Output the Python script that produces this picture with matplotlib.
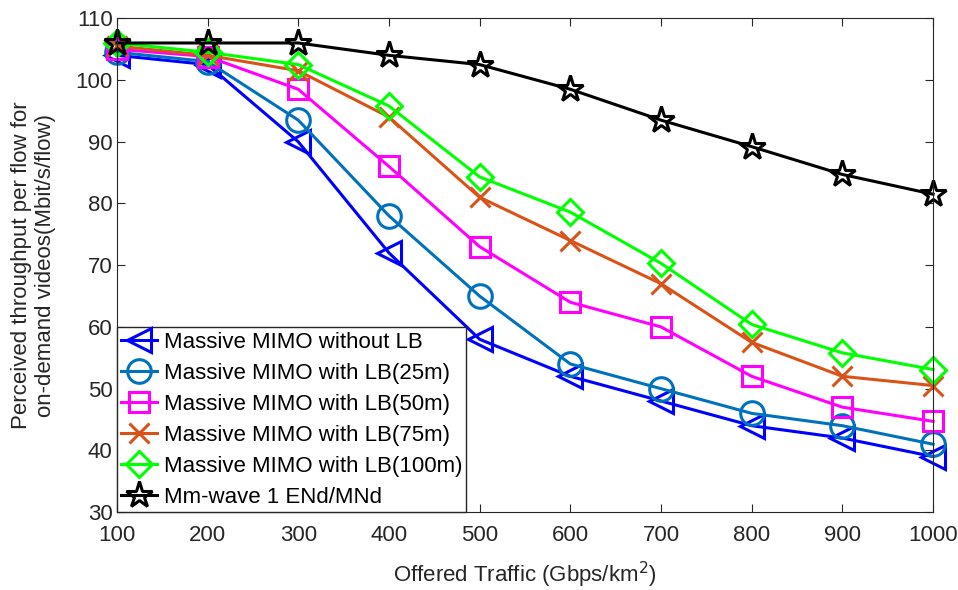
import numpy as np
import matplotlib
matplotlib.use('Agg')
import matplotlib.pyplot as plt

plt.rcParams['font.family'] = ['Liberation Sans', 'DejaVu Sans']

traffic = [100, 200, 300, 400, 500, 600, 700, 800, 900, 1000]

no_lb = [104, 102.5, 90, 72, 58, 52, 48, 44, 42, 39]
lb_25 = [104.5, 103, 93.5, 78, 65, 54, 50, 46, 44, 41]
lb_50 = [105, 103.8, 98.5, 86, 73, 64, 60, 52, 47, 44.7]
lb_75 = [105.5, 104, 101.5, 94, 81, 74, 67, 57.5, 52, 50.5]
lb_100 = [106, 104.5, 102.5, 95.8, 84.3, 78.6, 70.3, 60.4, 55.8, 53.1]
mmwave = [106, 106, 106, 104, 102.5, 98.5, 93.5, 89.2, 84.7, 81.5]

labels = ['Massive MIMO without LB', 'Massive MIMO with LB(25m)',
          'Massive MIMO with LB(50m)', 'Massive MIMO with LB(75m)',
          'Massive MIMO with LB(100m)', 'Mm-wave 1 ENd/MNd']

fig = plt.figure(figsize=(9.58, 5.9), dpi=100)
ax = fig.add_axes([0.122, 0.132, 0.852, 0.837])

series = [no_lb, lb_25, lb_50, lb_75, lb_100, mmwave]
colors = ['#0000FF', '#0072BD', '#FF00FF', '#D95319', '#00FF00', '#000000']
markers = ['<', 'o', 's', 'x', 'D', '*']
sizes = [17, 17, 14, 14, 13, 20]
for y, c, m, ms, lab in zip(series, colors, markers, sizes, labels):
    ax.plot(traffic, y, '-', color=c, marker=m, markersize=ms, lw=2.2,
            mfc='none', mew=2.2, label=lab, clip_on=False)

ax.set_xlim(100, 1000)
ax.set_ylim(30, 110)
ax.set_xticks(traffic)
ax.set_yticks(range(30, 111, 10))
ax.tick_params(direction='in', top=True, right=True, labelsize=16, colors='#262626', length=6)
ax.tick_params(axis='x', pad=9)
ax.tick_params(axis='y', pad=3)
for s in ax.spines.values():
    s.set_color('#262626')
ax.set_xlabel('Offered Traffic (Gbps/km$^2$)', fontsize=16, color='#262626', labelpad=10)
ax.set_ylabel('Perceived throughput per flow for\non-demand videos(Mbit/s/flow)', fontsize=16,
              color='#262626', labelpad=14)

leg = ax.legend(loc='lower left', fontsize=16, fancybox=False, edgecolor='#262626',
                borderaxespad=0, handlelength=1.6, handletextpad=0.3,
                labelspacing=0.45, borderpad=0.2, framealpha=1)
leg.get_frame().set_linewidth(1)

plt.savefig('out.png')
